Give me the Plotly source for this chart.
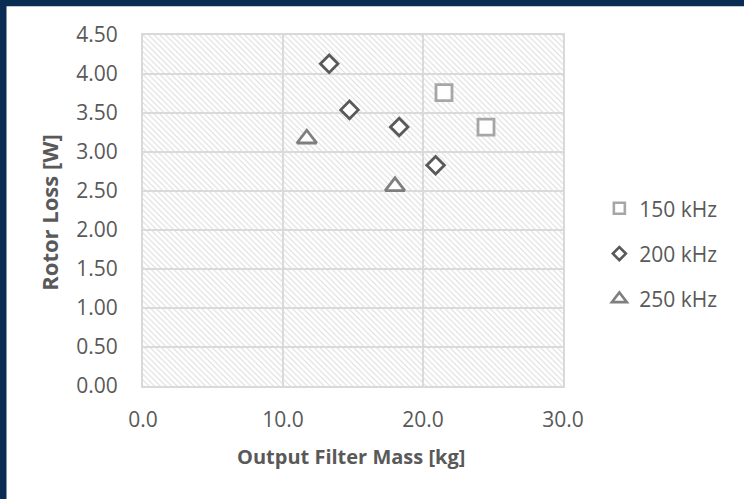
import plotly.graph_objects as go

# ---- data ----
series_names = ["150 kHz", "200 kHz", "250 kHz"]
mass_150 = [21.5, 24.5]
loss_150 = [3.76, 3.32]
mass_200 = [13.3, 14.75, 18.3, 20.9]
loss_200 = [4.13, 3.54, 3.32, 2.83]
mass_250 = [11.7, 18.0]
loss_250 = [3.17, 2.56]

x_range = [0, 30]
y_range = [0, 4.5]
x_ticks = [0, 10, 20, 30]
x_tick_text = ["0.0", "10.0", "20.0", "30.0"]
y_ticks = [0, 0.5, 1.0, 1.5, 2.0, 2.5, 3.0, 3.5, 4.0, 4.5]
y_tick_text = ["0.00", "0.50", "1.00", "1.50", "2.00", "2.50", "3.00", "3.50", "4.00", "4.50"]

FONT = "Open Sans"
TXT = "#595959"
GRID = "#d9d9d9"

fig = go.Figure()

# hatched plot-area background
fig.add_trace(go.Scatter(
    x=[x_range[0], x_range[1], x_range[1], x_range[0], x_range[0]],
    y=[y_range[0], y_range[0], y_range[1], y_range[1], y_range[0]],
    mode="none", fill="toself", fillcolor="rgba(0,0,0,0)",
    fillpattern=dict(shape="\\", size=4, solidity=0.28, fgcolor="#dcdcdc",
                     bgcolor="rgba(0,0,0,0)", fgopacity=1),
    hoverinfo="skip", showlegend=False))

styles = [
    ("square", 16, 11, "#a6a6a6", mass_150, loss_150),
    ("diamond", 13.5, 10, "#595959", mass_200, loss_200),
    ("triangle-up", 17, 13, "#7f7f7f", mass_250, loss_250),
]
for name, (sym, size, lsize, col, xs, ys) in zip(series_names, styles):
    fig.add_trace(go.Scatter(
        x=xs, y=ys, mode="markers", name=name, legendgroup=name, showlegend=False,
        marker=dict(symbol=sym, size=size, color="white",
                    line=dict(color=col, width=2.8))))
    # legend entry (smaller symbol, as in the reference legend)
    fig.add_trace(go.Scatter(
        x=[None], y=[None], mode="markers", name=name, legendgroup=name,
        marker=dict(symbol=sym, size=lsize, color="white",
                    line=dict(color=col, width=2.6))))

W, H = 744, 499
L, R, T, B = 143.3, 562.7, 34.7, 386.0

fig.update_layout(
    width=W, height=H,
    margin=dict(l=L, r=W - R, t=T, b=H - B, pad=0),
    paper_bgcolor="#0b2c52",
    plot_bgcolor="white",
    font=dict(family=FONT, color=TXT, size=21),
    showlegend=True,
    legend=dict(x=(599 - L) / (R - L), xanchor="left",
                y=(B - 188) / (B - T), yanchor="top",
                traceorder="grouped", tracegroupgap=15,
                itemsizing="trace",
                bgcolor="rgba(0,0,0,0)", borderwidth=0,
                font=dict(family=FONT, color=TXT, size=21)),
    shapes=[dict(type="rect", xref="paper", yref="paper",
                 x0=(7 - L) / (R - L), x1=(W + 5 - L) / (R - L),
                 y0=(B - H - 5) / (B - T), y1=(B - 6) / (B - T),
                 fillcolor="white", line=dict(width=0), layer="below")],
    annotations=[
        dict(text="<b>Rotor Loss [W]</b>", textangle=-90, xref="paper", yref="paper",
             x=(50 - L) / (R - L), y=(B - 212) / (B - T), xanchor="center", yanchor="middle",
             showarrow=False, font=dict(family=FONT, color=TXT, size=22)),
        dict(text="<b>Output Filter Mass [kg]</b>", xref="paper", yref="paper",
             x=(351 - L) / (R - L), y=(B - 457) / (B - T), xanchor="center", yanchor="middle",
             showarrow=False, font=dict(family=FONT, color=TXT, size=20)),
    ],
)

fig.update_xaxes(range=x_range, tickvals=x_ticks, ticktext=x_tick_text,
                 showgrid=True, gridcolor=GRID, gridwidth=2,
                 showline=True, linecolor=GRID, linewidth=2, mirror=True,
                 zeroline=False, ticks="", ticklabelstandoff=14,
                 tickfont=dict(family=FONT, color=TXT, size=21), automargin=False)
fig.update_yaxes(range=y_range, tickvals=y_ticks, ticktext=y_tick_text,
                 showgrid=True, gridcolor=GRID, gridwidth=2,
                 showline=True, linecolor=GRID, linewidth=2, mirror=True,
                 zeroline=False, ticks="", ticklabelstandoff=19,
                 tickfont=dict(family=FONT, color=TXT, size=21), automargin=False)

fig.write_html("out.html")
